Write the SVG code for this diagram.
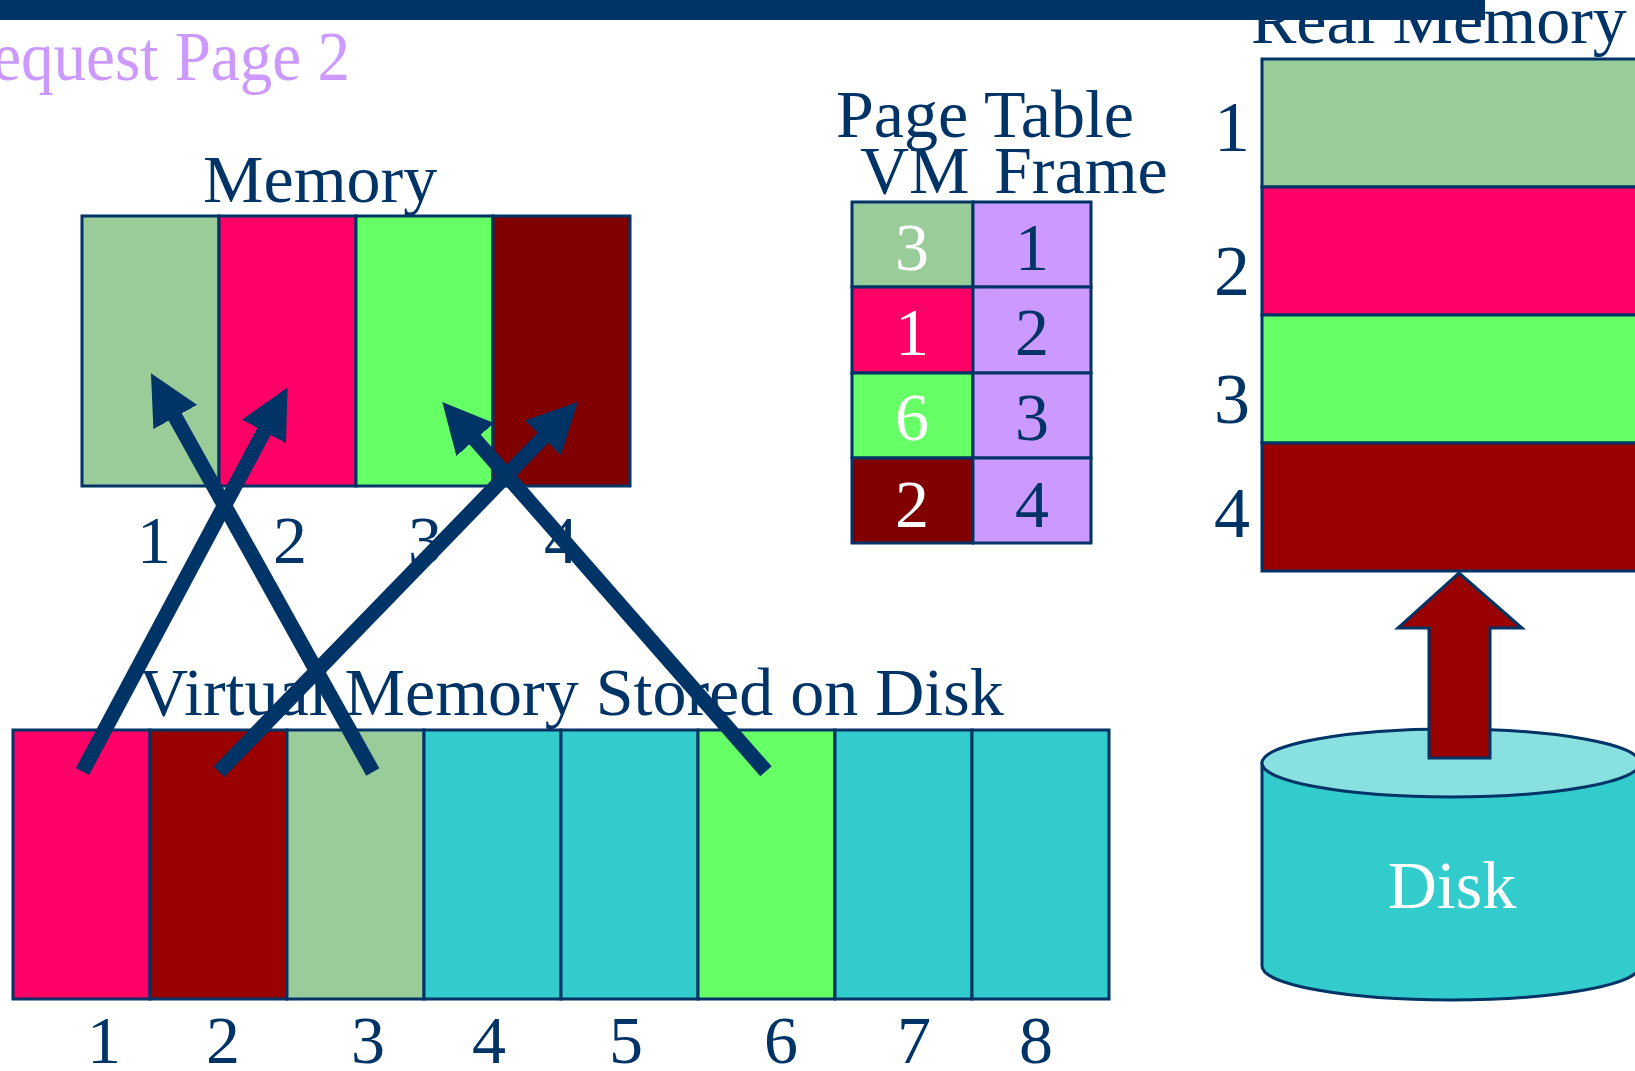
<svg xmlns="http://www.w3.org/2000/svg" width="1635" height="1071" viewBox="0 0 1635 1071">
  <style>
    text { font-family: "Liberation Serif", "Times New Roman", serif; font-size: 68px; fill: #003366; }
    .mid { text-anchor: middle; }
    .white { fill: #ffffff; }
    .cell { stroke: #003366; stroke-width: 3; }
    .sage { fill: #99CC99; }
    .rose { fill: #FF0066; }
    .lime { fill: #66FF66; }
    .maroon { fill: #800000; }
    .crimson { fill: #990000; }
    .teal { fill: #33CCCC; }
    .lilac { fill: #CC99FF; }
    .link { stroke: #003366; stroke-width: 15; fill: none; marker-end: url(#head); }
  </style>
  <defs>
    <marker id="head" markerUnits="userSpaceOnUse" viewBox="0 0 50 50" markerWidth="50" markerHeight="50" refX="2" refY="25" orient="auto">
      <path d="M0,0 L50,25 L0,50 z" fill="#003366"/>
    </marker>
  </defs>

  <rect width="1635" height="1071" fill="#ffffff"/>

  <!-- heading, slightly condensed -->
  <text id="title" transform="translate(350,80) scale(0.93,1)" x="0" y="0" style="font-size:70px;fill:#CC99FF;text-anchor:end">Request Page 2</text>

  <!-- physical memory frames -->
  <g id="memory">
    <text x="203" y="202">Memory</text>
    <rect class="cell sage" x="82" y="216" width="137" height="270"/>
    <rect class="cell rose" x="219" y="216" width="137" height="270"/>
    <rect class="cell lime" x="356" y="216" width="137" height="270"/>
    <rect class="cell maroon" x="493" y="216" width="137" height="270"/>
    <text class="mid" x="154" y="563">1</text>
    <text class="mid" x="290" y="563">2</text>
    <text class="mid" x="425" y="563">3</text>
    <text class="mid" x="561" y="563">4</text>
  </g>

  <!-- page table -->
  <g id="page-table">
    <text x="836" y="137">Page Table</text>
    <text x="860" y="193">VM</text>
    <text x="994" y="193">Frame</text>
    <rect class="cell sage" x="852" y="202" width="121" height="85"/>
    <rect class="cell rose" x="852" y="287" width="121" height="86"/>
    <rect class="cell lime" x="852" y="373" width="121" height="85"/>
    <rect class="cell maroon" x="852" y="458" width="121" height="85"/>
    <rect class="cell lilac" x="973" y="202" width="118" height="85"/>
    <rect class="cell lilac" x="973" y="287" width="118" height="86"/>
    <rect class="cell lilac" x="973" y="373" width="118" height="85"/>
    <rect class="cell lilac" x="973" y="458" width="118" height="85"/>
    <text class="mid white" x="912" y="270">3</text>
    <text class="mid white" x="912" y="355">1</text>
    <text class="mid white" x="912" y="440">6</text>
    <text class="mid white" x="912" y="527">2</text>
    <text class="mid" x="1032" y="270">1</text>
    <text class="mid" x="1032" y="355">2</text>
    <text class="mid" x="1032" y="440">3</text>
    <text class="mid" x="1032" y="527">4</text>
  </g>

  <!-- real memory column -->
  <g id="real-memory">
    <text x="1251" y="43">Real Memory</text>
    <rect class="cell sage" x="1262" y="59" width="450" height="128"/>
    <rect class="cell rose" x="1262" y="187" width="450" height="128"/>
    <rect class="cell lime" x="1262" y="315" width="450" height="128"/>
    <rect class="cell crimson" x="1262" y="443" width="450" height="128"/>
    <text class="mid" x="1232" y="151" style="font-size:72px">1</text>
    <text class="mid" x="1232" y="295" style="font-size:72px">2</text>
    <text class="mid" x="1232" y="423" style="font-size:72px">3</text>
    <text class="mid" x="1232" y="537" style="font-size:72px">4</text>
  </g>

  <!-- top rule -->
  <rect x="0" y="0" width="1485" height="20" fill="#003366"/>

  <!-- disk cylinder -->
  <g id="disk">
    <path d="M1262,763 L1262,966 A189,34 0 0 0 1640,966 L1640,763 z" fill="#33CCCC" stroke="#003366" stroke-width="3"/>
    <ellipse cx="1451" cy="763" rx="189" ry="34" fill="#88E0E0" stroke="#003366" stroke-width="3"/>
    <text class="mid white" x="1452" y="908">Disk</text>
  </g>

  <!-- block arrow: disk to real memory -->
  <g id="load-arrow">
    <polygon points="1459,573 1522,628 1490,628 1490,758 1429,758 1429,628 1398,628" fill="#990000" stroke="#003366" stroke-width="3"/>
  </g>

  <!-- virtual memory pages -->
  <g id="virtual-memory">
    <text x="139" y="715">Virtual Memory Stored on Disk</text>
    <rect class="cell rose" x="13" y="730" width="137" height="269"/>
    <rect class="cell crimson" x="150" y="730" width="137" height="269"/>
    <rect class="cell sage" x="287" y="730" width="137" height="269"/>
    <rect class="cell teal" x="424" y="730" width="137" height="269"/>
    <rect class="cell teal" x="561" y="730" width="137" height="269"/>
    <rect class="cell lime" x="698" y="730" width="137" height="269"/>
    <rect class="cell teal" x="835" y="730" width="137" height="269"/>
    <rect class="cell teal" x="972" y="730" width="137" height="269"/>
    <text class="mid" x="104" y="1063">1</text>
    <text class="mid" x="223" y="1063">2</text>
    <text class="mid" x="368" y="1063">3</text>
    <text class="mid" x="489" y="1063">4</text>
    <text class="mid" x="626" y="1063">5</text>
    <text class="mid" x="781" y="1063">6</text>
    <text class="mid" x="914" y="1063">7</text>
    <text class="mid" x="1036" y="1063">8</text>
  </g>

  <!-- page to frame mappings -->
  <g id="connectors">
    <line class="link" x1="82.5" y1="771.5" x2="264.9" y2="429.8"/>
    <line class="link" x1="372.8" y1="772" x2="174.3" y2="415.3"/>
    <line class="link" x1="219" y1="771.7" x2="544.3" y2="436.4"/>
    <line class="link" x1="766" y1="771.3" x2="473.9" y2="438.1"/>
  </g>
</svg>
